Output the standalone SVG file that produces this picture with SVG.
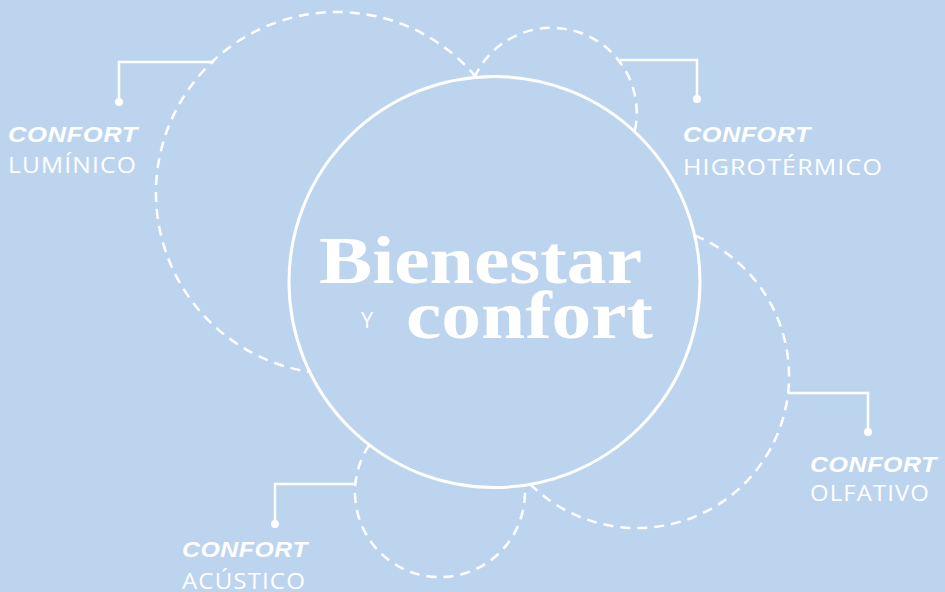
<svg xmlns="http://www.w3.org/2000/svg" width="945" height="592" viewBox="0 0 945 592">
<style>
.bg{fill:#bdd4ef}
.main{fill:none;stroke:#ffffff;stroke-width:3}
.dash{fill:none;stroke:#ffffff;stroke-width:2.5;stroke-dasharray:10 7}
.conn{fill:none;stroke:#ffffff;stroke-width:2.5}
.dot{fill:#ffffff}
.lbl{font-family:"Liberation Sans","Open Sans",sans-serif;font-weight:700;font-style:italic;font-size:22px;letter-spacing:0.5px;fill:#ffffff}
.sub{font-family:"Open Sans","Liberation Sans",sans-serif;font-weight:400;font-size:21.5px;letter-spacing:1px;fill:#ffffff}
.title{font-family:"Liberation Serif","DejaVu Serif",serif;font-weight:700;fill:#ffffff}
</style>
<rect class="bg" x="0" y="0" width="945" height="592"/>
<g id="center">
<circle class="main" cx="494.5" cy="282" r="205.5"/>
<text class="title" x="319" y="283" font-size="68" textLength="323" lengthAdjust="spacingAndGlyphs">Bienestar</text>
<text class="sub" x="361" y="328" font-size="28" letter-spacing="0" textLength="13" lengthAdjust="spacingAndGlyphs">Y</text>
<text class="title" x="406" y="338" font-size="68" textLength="247" lengthAdjust="spacingAndGlyphs">confort</text>
</g>
<g id="connectors">
<path class="dash" d="M476.2,77.3 A181,181 0 1 0 309.8,371.9"/>
<path class="dash" d="M474.4,77.5 A85,85 0 0 1 634.6,131.7"/>
<path class="dash" d="M694.6,235.4 A152,152 0 1 1 530.4,484.4"/>
<path class="dash" d="M369.3,444.9 A85,85 0 1 0 524.7,485.3"/>
<polyline class="conn" points="214,62 119,62 119,102"/>
<circle class="dot" cx="119" cy="102" r="4"/>
<polyline class="conn" points="620,60 697,60 697,99"/>
<circle class="dot" cx="697" cy="99" r="4"/>
<polyline class="conn" points="788,393 868,393 868,432"/>
<circle class="dot" cx="868" cy="432" r="4"/>
<polyline class="conn" points="355,484 275,484 275,524"/>
<circle class="dot" cx="275" cy="524" r="4"/>
</g>
<g id="luminico">
<text class="lbl" x="8" y="142" textLength="130" lengthAdjust="spacingAndGlyphs">CONFORT</text>
<text class="sub" x="8" y="173" textLength="129" lengthAdjust="spacingAndGlyphs">LUMÍNICO</text>
</g>
<g id="higrotermico">
<text class="lbl" x="683" y="142" textLength="128" lengthAdjust="spacingAndGlyphs">CONFORT</text>
<text class="sub" x="683" y="175" textLength="200" lengthAdjust="spacingAndGlyphs">HIGROTÉRMICO</text>
</g>
<g id="olfativo">
<text class="lbl" x="810" y="472" textLength="127" lengthAdjust="spacingAndGlyphs">CONFORT</text>
<text class="sub" x="810" y="501" textLength="120" lengthAdjust="spacingAndGlyphs">OLFATIVO</text>
</g>
<g id="acustico">
<text class="lbl" x="182" y="557" textLength="126" lengthAdjust="spacingAndGlyphs">CONFORT</text>
<text class="sub" x="182" y="589" textLength="124" lengthAdjust="spacingAndGlyphs">ACÚSTICO</text>
</g>
</svg>
